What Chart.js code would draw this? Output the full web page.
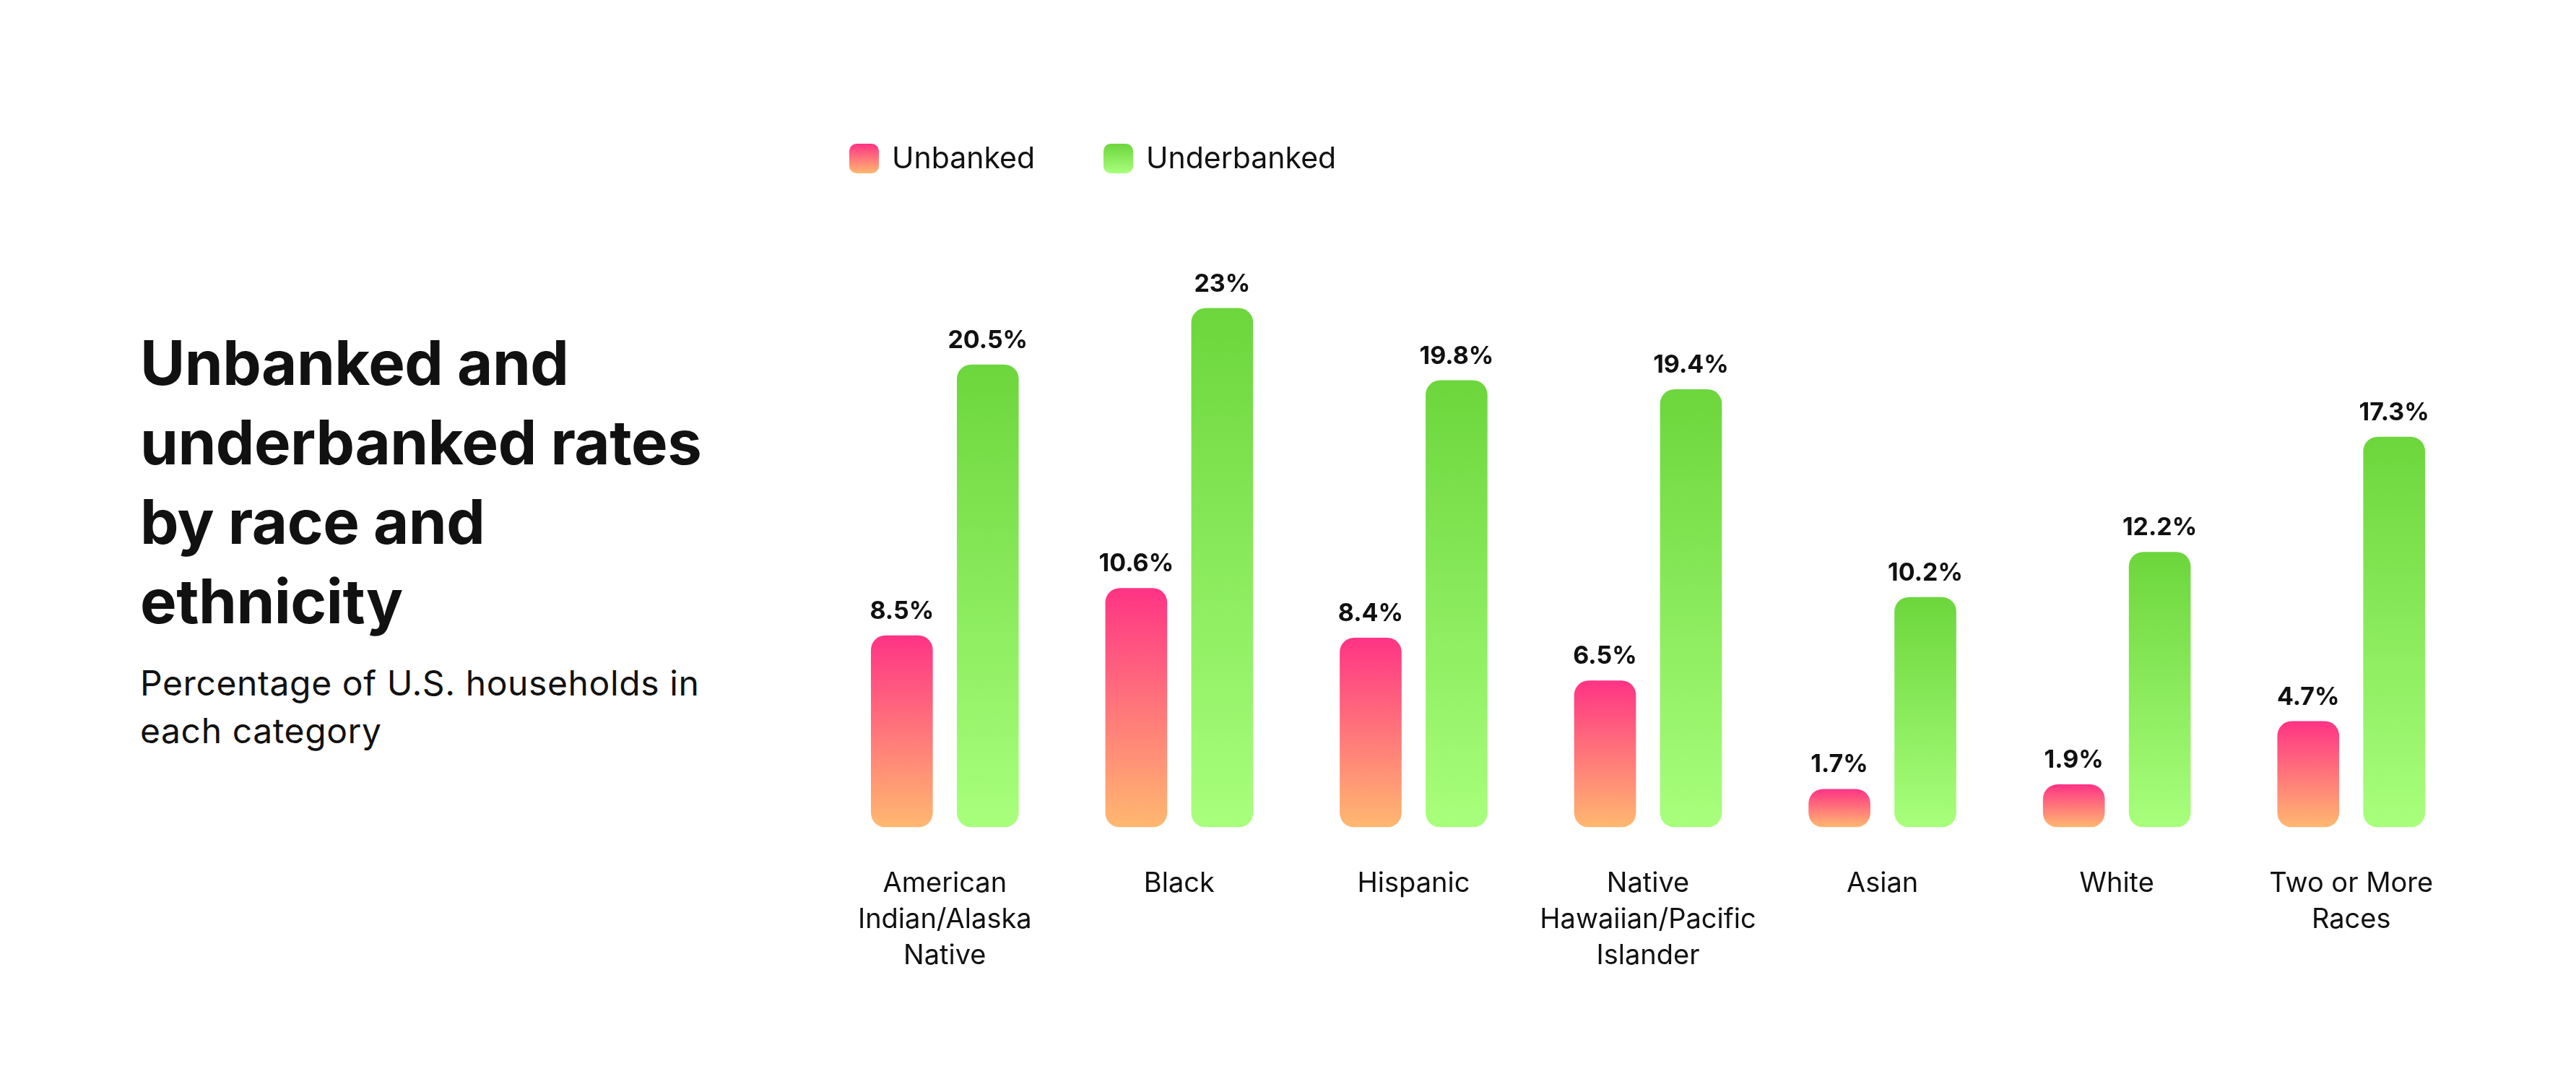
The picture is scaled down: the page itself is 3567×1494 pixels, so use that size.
<!DOCTYPE html>
<html>
<head>
<meta charset="utf-8">
<script src="https://cdn.jsdelivr.net/npm/chart.js@4.4.1/dist/chart.umd.min.js"></script>
<style>
  body { margin: 0; background: #fff; width: 3567px; height: 1494px; overflow: hidden; position: relative; font-family: Inter, "DejaVu Sans", sans-serif; color: #111; }
  #chart { position: absolute; left: 0; top: 0; }
  .title { position: absolute; left: 194px; top: 448px; font-size: 85px; font-weight: 700; line-height: 110px; letter-spacing: -0.5px; }
  .subtitle { position: absolute; left: 194px; top: 913px; font-size: 48px; line-height: 66px; letter-spacing: 0.6px; }
</style>
</head>
<body>
<div class="title">Unbanked and<br>underbanked rates<br>by race and<br>ethnicity</div>
<div class="subtitle">Percentage of U.S. households in<br>each category</div>
<canvas id="chart" width="3567" height="1494"></canvas>
<script>
const categories = [
  ["American", "Indian/Alaska", "Native"],
  ["Black"],
  ["Hispanic"],
  ["Native", "Hawaiian/Pacific", "Islander"],
  ["Asian"],
  ["White"],
  ["Two or More", "Races"],
];
const seriesNames = ["Unbanked", "Underbanked"];
const unbanked = [8.5, 10.6, 8.4, 6.5, 1.7, 1.9, 4.7];
const underbanked = [20.5, 23, 19.8, 19.4, 10.2, 12.2, 17.3];

const PINK = ["#ff3385", "#ffb870"];
const GREEN = ["#6cd63c", "#a8ff7c"];
const FONT = "Inter, 'DejaVu Sans', sans-serif";

// gradient runs from the top of each bar down to the baseline
function barGradient(ctx, colors) {
  const { chart, parsed } = ctx;
  if (!chart.chartArea || !parsed) return colors[0];
  const y = chart.scales.y;
  const g = chart.ctx.createLinearGradient(0, y.getPixelForValue(parsed.y), 0, y.getPixelForValue(0));
  g.addColorStop(0, colors[0]);
  g.addColorStop(1, colors[1]);
  return g;
}

const valueLabels = {
  id: "valueLabels",
  afterDatasetsDraw(chart) {
    const { ctx } = chart;
    ctx.save();
    ctx.fillStyle = "#111";
    ctx.font = `700 34px ${FONT}`;
    ctx.textAlign = "center";
    ctx.textBaseline = "alphabetic";
    chart.data.datasets.forEach((ds, di) => {
      chart.getDatasetMeta(di).data.forEach((bar, i) => {
        ctx.fillText(`${ds.data[i]}%`, bar.x, bar.y - 23);
      });
    });
    ctx.restore();
  },
};

const gradientLegend = {
  id: "gradientLegend",
  afterDraw(chart) {
    const { ctx, chartArea } = chart;
    const offsets = [30, 382];
    const sets = [PINK, GREEN];
    ctx.save();
    ctx.font = `400 41px ${FONT}`;
    ctx.textBaseline = "middle";
    chart.data.datasets.forEach((ds, i) => {
      const x = chartArea.left + offsets[i];
      const top = 199, size = 41;
      const g = ctx.createLinearGradient(0, top, 0, top + size);
      g.addColorStop(0, sets[i][0]);
      g.addColorStop(1, sets[i][1]);
      ctx.fillStyle = g;
      ctx.beginPath();
      ctx.roundRect(x, top, size, size, 10);
      ctx.fill();
      ctx.fillStyle = "#111";
      ctx.fillText(ds.label, x + size + 18, top + size / 2 + 1);
    });
    ctx.restore();
  },
};

new Chart(document.getElementById("chart"), {
  type: "bar",
  data: {
    labels: categories,
    datasets: [
      {
        label: seriesNames[0],
        data: unbanked,
        backgroundColor: c => barGradient(c, PINK),
        borderRadius: 20,
        borderSkipped: false,
      },
      {
        label: seriesNames[1],
        data: underbanked,
        backgroundColor: c => barGradient(c, GREEN),
        borderRadius: 20,
        borderSkipped: false,
      },
    ],
  },
  options: {
    responsive: false,
    devicePixelRatio: 1,
    animation: false,
    categoryPercentage: 0.733,
    barPercentage: 0.72,
    layout: { padding: { left: 1146, right: 149, top: 364, bottom: 100 } },
    plugins: {
      legend: { display: false },
      tooltip: { enabled: false },
    },
    scales: {
      x: {
        grid: { display: false },
        border: { display: false },
        ticks: {
          color: "#111",
          padding: 45,
          maxRotation: 0,
          autoSkip: false,
          font: { family: FONT, size: 38, lineHeight: 1.32 },
        },
      },
      y: {
        display: false,
        min: 0,
        max: 25,
      },
    },
  },
  plugins: [valueLabels, gradientLegend],
});
</script>
</body>
</html>
